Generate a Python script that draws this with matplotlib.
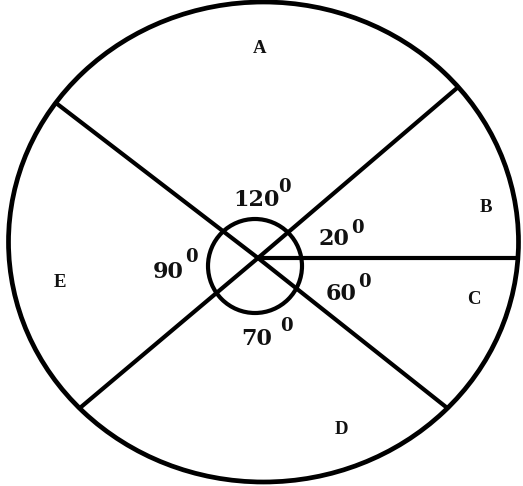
import numpy as np
import matplotlib
matplotlib.use("Agg")
import matplotlib.pyplot as plt
from matplotlib.patches import Ellipse, Circle

# Segments, counter-clockwise from the horizontal spoke
segments = ["B", "A", "E", "D", "C"]
drawn_spans = [40.5, 102.0, 77.6, 101.5, 38.4]   # angles as drawn (deg)
labelled_degrees = [20, 120, 90, 70, 60]          # angles as written

# label positions (pixel coords of the drawing)
segment_label_pos = {"A": (260, 53), "B": (486, 212), "C": (474, 304),
                     "D": (341, 434), "E": (60, 287)}
degree_main_pos = {"A": (256, 206), "B": (334, 245), "C": (341, 300),
                   "D": (257, 345), "E": (168, 278)}   # centre x, baseline
degree_sup_pos = {"A": (278, 192), "B": (351, 233), "C": (358, 287),
                  "D": (280, 331), "E": (185, 262)}    # left x, baseline

W, H = 523, 486
fig = plt.figure(figsize=(W / 100, H / 100), dpi=100)
ax = fig.add_axes([0, 0, 1, 1])
ax.set_xlim(0, W)
ax.set_ylim(H, 0)
ax.axis("off")

# outer shape
ecx, ecy, ea, eb = 263.5, 242.0, 255.0, 240.0
ax.add_patch(Ellipse((ecx, ecy), 2 * ea, 2 * eb, fill=False, lw=3.4, ec="black"))
# small angle circle
ax.add_patch(Circle((255, 266), 47, fill=False, lw=3.0, ec="black"))

cx, cy = 258.0, 258.0


def ray_end(theta_deg):
    t = np.deg2rad(theta_deg)
    dx, dy = np.cos(t), -np.sin(t)
    px, py = cx - ecx, cy - ecy
    A = (dx / ea) ** 2 + (dy / eb) ** 2
    B = 2 * (px * dx / ea ** 2 + py * dy / eb ** 2)
    C = (px / ea) ** 2 + (py / eb) ** 2 - 1
    s = (-B + np.sqrt(B * B - 4 * A * C)) / (2 * A)
    return cx + s * dx, cy + s * dy


edges = np.concatenate([[0], np.cumsum(drawn_spans)[:-1]])
for th in edges:
    x1, y1 = ray_end(th)
    ax.plot([cx, x1], [cy, y1], color="black", lw=3.0, solid_capstyle="butt")

for name, deg in zip(segments, labelled_degrees):
    x, y = segment_label_pos[name]
    ax.text(x, y, name, ha="center", va="baseline", fontsize=13.5,
            fontweight="bold", family="Liberation Serif", color="#111111")
    x, y = degree_main_pos[name]
    ax.text(x, y, str(deg), ha="center", va="baseline", fontsize=16,
            fontweight="bold", family="DejaVu Serif", color="#111111")
    x, y = degree_sup_pos[name]
    ax.text(x, y, "0", ha="left", va="baseline", fontsize=13,
            fontweight="bold", family="DejaVu Serif", color="#111111")

fig.savefig("out.png", dpi=100)
